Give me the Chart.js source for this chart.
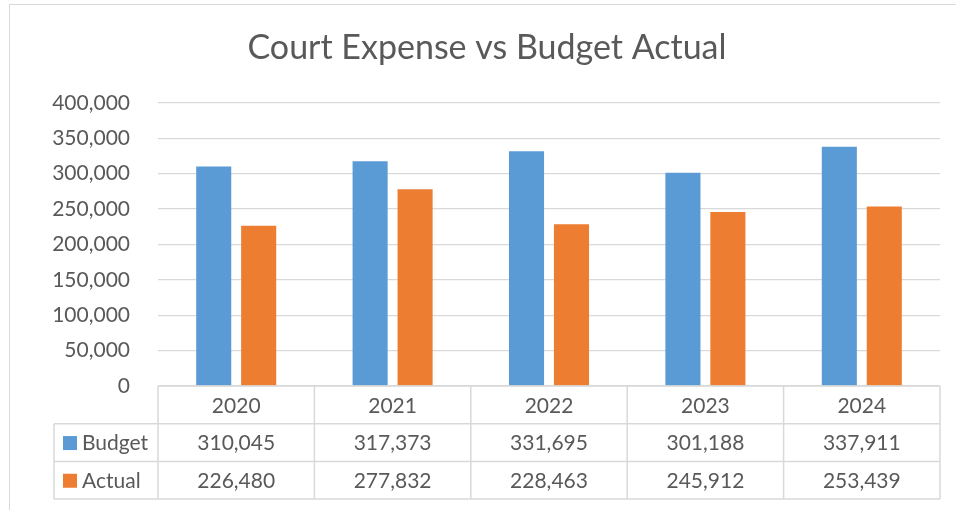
<!DOCTYPE html>
<html>
<head>
<meta charset="utf-8">
<script src="https://cdn.jsdelivr.net/npm/chart.js@4"></script>
<style>
  html, body { margin: 0; padding: 0; background: #ffffff; }
  #wrap { width: 956px; height: 510px; position: relative; }
</style>
</head>
<body>
<div id="wrap"><canvas id="c" width="956" height="510"></canvas></div>
<script>
const categories = ['2020', '2021', '2022', '2023', '2024'];
const budgetValues = [310045, 317373, 331695, 301188, 337911];
const actualValues = [226480, 277832, 228463, 245912, 253439];
const seriesNames = ['Budget', 'Actual'];
const seriesColors = ['#5B9BD5', '#ED7D31'];

const FONT = 'Lato, "Open Sans", sans-serif';
const TEXT = '#595959';
const LINE = '#d9d9d9';
const fmt = v => Number(v).toLocaleString('en-US');

// Data table under the plot, laid out on the category scale
const dataTable = {
  id: 'dataTable',
  afterDraw(chart) {
    const ctx = chart.ctx;
    const x = chart.scales.x;
    const area = chart.chartArea;
    const n = categories.length;
    const colW = (x.right - x.left) / n;
    const top = area.bottom;
    const rowH = 37.7;
    const legendLeft = 54;
    const rows = [budgetValues, actualValues];
    const bottom = top + rowH * 3;

    ctx.save();
    ctx.strokeStyle = LINE;
    ctx.lineWidth = 1.5;
    ctx.beginPath();
    // header row top
    ctx.moveTo(x.left, top); ctx.lineTo(x.right, top);
    // series row boundaries
    for (let r = 1; r <= 3; r++) {
      const y = top + rowH * r;
      ctx.moveTo(legendLeft, y); ctx.lineTo(x.right, y);
    }
    // column boundaries
    for (let i = 0; i <= n; i++) {
      const cx = x.left + colW * i;
      ctx.moveTo(cx, top); ctx.lineTo(cx, bottom);
    }
    ctx.moveTo(legendLeft, top + rowH); ctx.lineTo(legendLeft, bottom);
    ctx.stroke();

    ctx.font = '21px ' + FONT;
    ctx.fillStyle = TEXT;
    ctx.textBaseline = 'middle';
    ctx.textAlign = 'center';
    categories.forEach((c, i) => {
      ctx.fillText(c, x.getPixelForValue(i), top + rowH / 2 + 1);
    });
    rows.forEach((vals, r) => {
      const cy = top + rowH * (r + 1) + rowH / 2 + 1;
      vals.forEach((v, i) => {
        ctx.fillStyle = TEXT;
        ctx.fillText(fmt(v), x.getPixelForValue(i), cy);
      });
      // legend key + series name
      ctx.fillStyle = seriesColors[r];
      ctx.fillRect(63, cy - 7.5, 14, 14);
      ctx.fillStyle = TEXT;
      ctx.textAlign = 'left';
      ctx.fillText(seriesNames[r], 82, cy);
      ctx.textAlign = 'center';
    });
    ctx.restore();
  }
};

// Light frame around the whole chart
const frame = {
  id: 'frame',
  beforeDraw(chart) {
    const ctx = chart.ctx;
    ctx.save();
    ctx.fillStyle = '#ffffff';
    ctx.fillRect(0, 0, chart.width, chart.height);
    ctx.strokeStyle = '#d9d9d9';
    ctx.lineWidth = 1;
    ctx.strokeRect(9.5, 4.5, chart.width + 10, chart.height + 10);
    ctx.restore();
  }
};

new Chart(document.getElementById('c'), {
  type: 'bar',
  data: {
    labels: categories,
    datasets: [
      { label: seriesNames[0], data: budgetValues, backgroundColor: seriesColors[0] },
      { label: seriesNames[1], data: actualValues, backgroundColor: seriesColors[1] }
    ]
  },
  options: {
    responsive: false,
    animation: false,
    devicePixelRatio: 1,
    layout: { padding: { left: 34, right: 16, top: 0, bottom: 124 } },
    datasets: { bar: { categoryPercentage: 0.575, barPercentage: 0.78 } },
    plugins: {
      legend: { display: false },
      tooltip: { enabled: false },
      title: {
        display: true,
        text: 'Court Expense vs Budget Actual',
        color: TEXT,
        font: { family: FONT, size: 34, weight: 'normal' },
        padding: { top: 28, bottom: 34 }
      }
    },
    scales: {
      x: { display: false },
      y: {
        min: 0,
        max: 400000,
        border: { display: false },
        grid: { color: LINE, lineWidth: 1.2, drawTicks: false },
        ticks: {
          stepSize: 50000,
          padding: 28,
          color: TEXT,
          font: { family: FONT, size: 21 },
          callback: v => fmt(v)
        },
        afterFit(scale) { scale.width = 124; }
      }
    }
  },
  plugins: [frame, dataTable]
});
</script>
</body>
</html>
